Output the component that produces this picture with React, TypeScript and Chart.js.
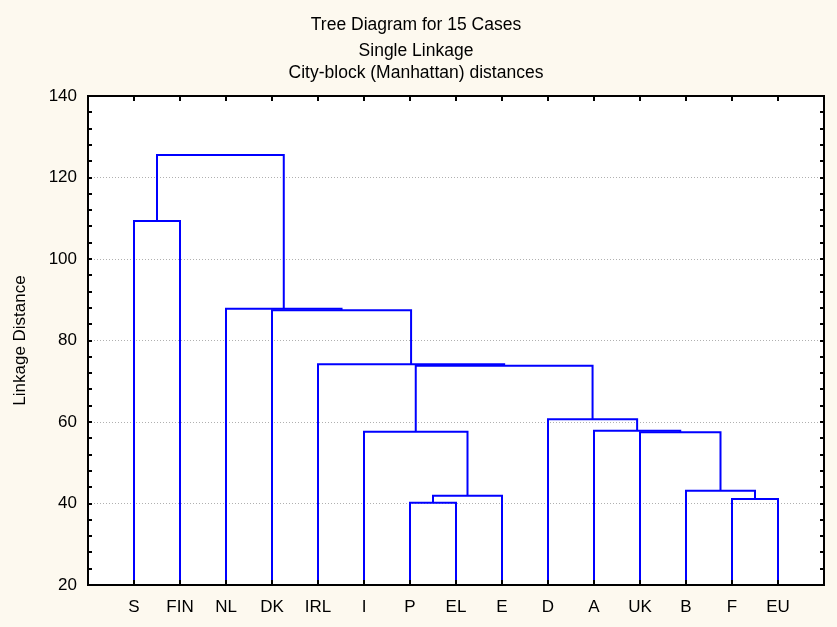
import React, { useEffect, useRef } from 'react';
import { Chart, registerables } from 'chart.js';

Chart.register(...registerables);

const TITLE_LINES = ['Tree Diagram for 15 Cases', 'Single Linkage', 'City-block (Manhattan) distances'];
const Y_TITLE = 'Linkage Distance';
const CASES = ['S', 'FIN', 'NL', 'DK', 'IRL', 'I', 'P', 'EL', 'E', 'D', 'A', 'UK', 'B', 'F', 'EU'];
// merge steps: left child, right child (case label or "c<n>" = result of n-th merge), linkage height
const MERGE_LEFT = ['P', 'F', 'c1', 'B', 'I', 'UK', 'A', 'D', 'c5', 'IRL', 'DK', 'NL', 'S', 'c13'];
const MERGE_RIGHT = ['EL', 'EU', 'E', 'c2', 'c3', 'c4', 'c6', 'c7', 'c8', 'c9', 'c10', 'c11', 'FIN', 'c12'];
const MERGE_HEIGHT = [40.2, 41.1, 41.9, 43.1, 57.6, 57.5, 57.85, 60.7, 73.8, 74.2, 87.45, 87.8, 109.35, 125.5];
const Y_TICKS = [20, 40, 60, 80, 100, 120, 140];
const Y_MINOR_STEP = 4;

const FONT = '"Liberation Sans", Arial, sans-serif';
const BG = '#fdf9ef';
const LINE_COLOR = '#0000ff';

function buildSegments() {
  const pos: Record<string, { x: number; h: number }> = {};
  CASES.forEach((c, i) => {
    pos[c] = { x: i + 1, h: Y_TICKS[0] };
  });
  return MERGE_LEFT.map((l, i) => {
    const r = MERGE_RIGHT[i];
    const h = MERGE_HEIGHT[i];
    const a = pos[l];
    const b = pos[r];
    pos['c' + (i + 1)] = { x: (a.x + b.x) / 2, h };
    return [
      { x: a.x, y: a.h },
      { x: a.x, y: h },
      { x: b.x, y: h },
      { x: b.x, y: b.h },
    ];
  });
}

const decorPlugin = {
  id: 'decor',
  beforeDraw(chart: any) {
    const { ctx, chartArea } = chart;
    ctx.save();
    ctx.fillStyle = BG;
    ctx.fillRect(0, 0, chart.width, chart.height);
    ctx.fillStyle = '#ffffff';
    ctx.fillRect(chartArea.left, chartArea.top, chartArea.right - chartArea.left, chartArea.bottom - chartArea.top);
    ctx.restore();
  },
  afterDatasetsDraw(chart: any) {
    const { ctx, chartArea, scales } = chart;
    const { left, right, top, bottom } = chartArea;
    const x = scales.x;
    const y = scales.y;
    ctx.save();
    ctx.strokeStyle = '#000000';
    ctx.lineWidth = 2;
    const seg = (x1: number, y1: number, x2: number, y2: number) => {
      ctx.beginPath();
      ctx.moveTo(x1, y1);
      ctx.lineTo(x2, y2);
      ctx.stroke();
    };
    const yMin = Y_TICKS[0];
    const yMax = Y_TICKS[Y_TICKS.length - 1];
    for (let v = yMin; v <= yMax; v += Y_MINOR_STEP) {
      const py = Math.round(y.getPixelForValue(v));
      seg(left, py, left + 4, py);
      seg(right - 4, py, right, py);
    }
    CASES.forEach((_, i) => {
      const px = Math.round(x.getPixelForValue(i + 1));
      seg(px, top, px, top + 5);
      seg(px, bottom - 5, px, bottom);
    });
    ctx.strokeRect(left, top, right - left, bottom - top);
    ctx.restore();
  },
  afterDraw(chart: any) {
    const { ctx } = chart;
    ctx.save();
    ctx.fillStyle = '#000000';
    ctx.font = '17.5px ' + FONT;
    ctx.textAlign = 'center';
    ctx.textBaseline = 'alphabetic';
    const baselines = [30, 56, 78];
    TITLE_LINES.forEach((t, i) => ctx.fillText(t, 416, baselines[i]));
    ctx.restore();
  },
};

export default function App() {
  const ref = useRef<HTMLCanvasElement | null>(null);
  useEffect(() => {
    document.body.style.margin = '0';
    document.body.style.background = BG;
    const canvas = ref.current;
    if (!canvas) return;
    const segments = buildSegments();
    const chart = new Chart(canvas, {
      type: 'scatter',
      data: {
        datasets: segments.map((pts) => ({
          data: pts,
          showLine: true,
          borderColor: LINE_COLOR,
          borderWidth: 2,
          pointRadius: 0,
          pointHoverRadius: 0,
          tension: 0,
          fill: false,
          borderJoinStyle: 'miter' as const,
        })),
      },
      options: {
        responsive: false,
        animation: false,
        events: [],
        layout: { padding: { left: 0, right: 13, top: 96, bottom: 0 } },
        plugins: {
          legend: { display: false },
          title: { display: false },
          tooltip: { enabled: false },
        },
        scales: {
          x: {
            type: 'linear',
            min: 0,
            max: CASES.length + 1,
            afterFit: (s: any) => {
              s.height = 42;
            },
            grid: { display: false, drawTicks: false },
            border: { display: false },
            ticks: {
              stepSize: 1,
              autoSkip: false,
              maxRotation: 0,
              padding: 12,
              color: '#000000',
              font: { family: FONT, size: 17 },
              callback: (v: any) => CASES[Number(v) - 1] ?? '',
            },
          },
          y: {
            type: 'linear',
            min: Y_TICKS[0],
            max: Y_TICKS[Y_TICKS.length - 1],
            afterFit: (s: any) => {
              s.width = 88;
            },
            grid: {
              drawTicks: false,
              lineWidth: 1,
              color: (c: any) =>
                c.tick && (c.tick.value === Y_TICKS[0] || c.tick.value === Y_TICKS[Y_TICKS.length - 1])
                  ? 'rgba(0,0,0,0)'
                  : '#b0b0b0',
            },
            border: { display: false, dash: [1, 2] },
            ticks: {
              stepSize: 20,
              padding: 11,
              color: '#000000',
              font: { family: FONT, size: 17 },
            },
            title: {
              display: true,
              text: Y_TITLE,
              color: '#000000',
              font: { family: FONT, size: 17 },
              padding: { top: 10, bottom: 0 },
            },
          },
        },
      },
      plugins: [decorPlugin],
    });
    return () => chart.destroy();
  }, []);
  return <canvas ref={ref} width={837} height={627} style={{ display: 'block' }} />;
}
